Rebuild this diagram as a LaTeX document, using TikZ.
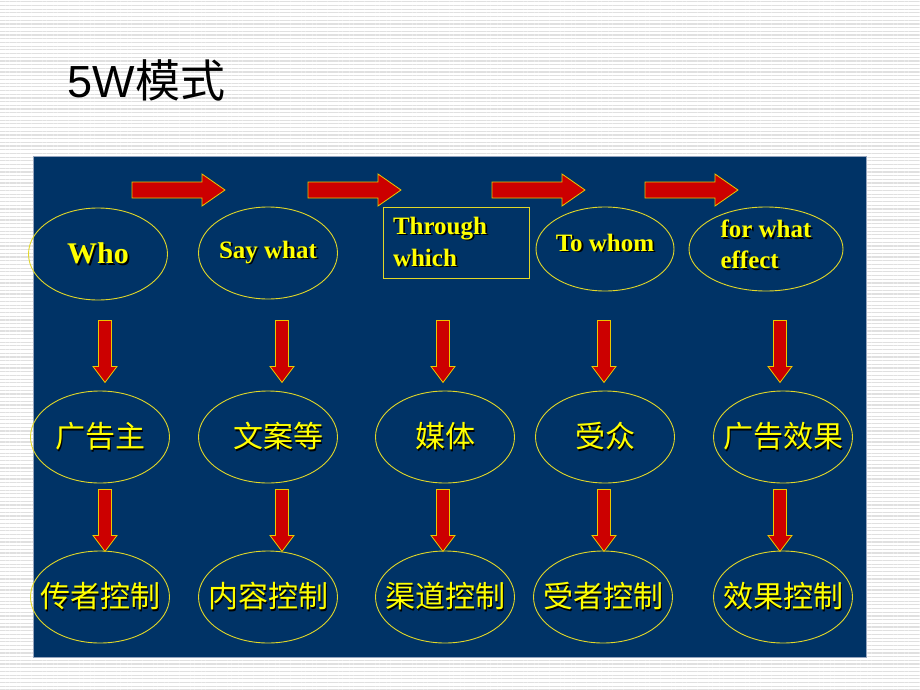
\documentclass[tikz,border=0pt]{standalone}
\usepackage{fontspec}
\setmainfont{Liberation Serif}
\newfontfamily\titlefont{Liberation Sans}
\newfontfamily\cjk{Noto Sans CJK SC}
\usetikzlibrary{shapes.geometric}
\usetikzlibrary{patterns.meta}

\definecolor{panelblue}{RGB}{0,51,102}
\definecolor{panelrim}{RGB}{150,165,190}
\definecolor{wyellow}{RGB}{255,255,0}
\definecolor{ovalrim}{RGB}{225,215,40}
\definecolor{arrowred}{RGB}{204,0,0}
\definecolor{arrowrim}{RGB}{235,200,0}
\definecolor{stripe}{RGB}{224,224,224}
\definecolor{shadowc}{RGB}{0,0,0}

% text with a dark drop shadow
\newcommand{\shad}[1]{\leavevmode\rlap{\kern1.8pt\raisebox{-1.8pt}{\color{shadowc}#1}}#1}
\newcommand{\ovaltxt}[1]{\makebox[0pt]{\shad{#1}}}

\tikzset{
  oval/.style={ellipse, draw=ovalrim, line width=0.9pt, minimum width=139pt,
    minimum height=92pt, inner sep=0pt, text=wyellow},
  entext/.style={font=\bfseries\fontsize{25}{32}\selectfont},
  cntext/.style={font=\cjk\fontsize{30}{36}\selectfont},
  blockarrow/.style={fill=arrowred, draw=arrowrim, line width=0.8pt},
  harrow/.pic={\draw[blockarrow] (0,-8) -- (70,-8) -- (70,-16) -- (93,0)
    -- (70,16) -- (70,8) -- (0,8) -- cycle;},
  varrow/.pic={\draw[blockarrow] (-6.5,0) -- (6.5,0) -- (6.5,46) -- (12,46)
    -- (0,62) -- (-12,46) -- (-6.5,46) -- cycle;}
}

\begin{document}
\begin{tikzpicture}[x=1pt,y=-1pt]
    \fill[white] (0,0) rectangle (920,690);
    \fill[pattern={Lines[angle=0,distance=3.7pt,line width=1.2pt]},
      pattern color=stripe] (0,0) rectangle (920,690);
    \useasboundingbox (0,0) rectangle (920,690);
    \node[anchor=base west, font=\titlefont\fontsize{45}{50}\selectfont]
      (title) at (64,98) {5W{\cjk 模式}};
    \draw[fill=panelblue, draw=panelrim, line width=0.8pt]
      (33,156) rectangle (866,657);
    % top row
    \pic at (132,190) {harrow};
    \pic at (308,190) {harrow};
    \pic at (492,190) {harrow};
    \pic at (645,190) {harrow};
    \node[oval, font=\bfseries\fontsize{30}{36}\selectfont] (who)
      at (98,254) {\ovaltxt{Who}};
    \node[oval, entext] (saywhat) at (268,253) {\ovaltxt{Say what}};
    \node[draw=ovalrim, line width=0.9pt, text=wyellow, entext,
      minimum width=146pt, minimum height=71pt, text width=126pt,
      inner xsep=10pt, align=left] (through) at (456,242.5)
      {\shad{Through}\\\shad{which}};
    \node[oval, entext, minimum width=138pt, minimum height=84pt]
      (towhom) at (605,249) {\ovaltxt{\raisebox{-3pt}[0pt][0pt]{To whom}}};
    \node[oval, entext, minimum width=154pt, minimum height=84pt]
      (forwhat) at (766,249) {\ovaltxt{\raisebox{-5pt}[0pt][0pt]{%
      \begin{tabular}{@{}l@{}}for what\\[-1pt]effect\end{tabular}}}};
    % middle row
    \node[oval, cntext] (ggz) at (100,437) {\ovaltxt{广告主}};
    \node[oval, cntext] (wad) at (268,437) {\ovaltxt{\hspace*{20pt}文案等}};
    \node[oval, cntext] (meiti) at (445,437) {\ovaltxt{媒体}};
    \node[oval, cntext] (shouzhong) at (605,437) {\ovaltxt{受众}};
    \node[oval, cntext] (ggxg) at (783,437) {\ovaltxt{广告效果}};
    % bottom row
    \node[oval, cntext] (czkz) at (100,597) {\ovaltxt{传者控制}};
    \node[oval, cntext] (nrkz) at (268,597) {\ovaltxt{内容控制}};
    \node[oval, cntext] (qdkz) at (445,597) {\ovaltxt{渠道控制}};
    \node[oval, cntext] (szkz) at (603,597) {\ovaltxt{受者控制}};
    \node[oval, cntext] (xgkz) at (783,597) {\ovaltxt{效果控制}};
    % down arrows
    \path (who.south) ++(7,20) pic {varrow};
    \path (saywhat.south) ++(14,21) pic {varrow};
    \path (through.south) ++(-13,42) pic {varrow};
    \path (towhom.south) ++(-1,29) pic {varrow};
    \path (forwhat.south) ++(14,29) pic {varrow};
    \path (ggz.south) ++(5,6) pic {varrow};
    \path (wad.south) ++(14,6) pic {varrow};
    \path (meiti.south) ++(-2,6) pic {varrow};
    \path (shouzhong.south) ++(-1,6) pic {varrow};
    \path (ggxg.south) ++(-3,6) pic {varrow};
  \end{tikzpicture}
\end{document}
